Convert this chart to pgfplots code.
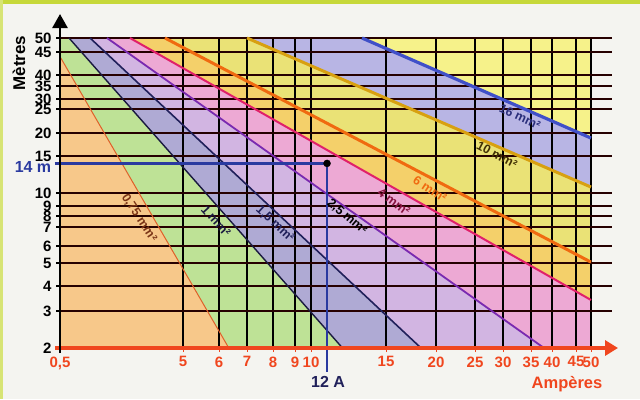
\documentclass[border=0pt]{standalone}
\usepackage{pgfplots}
\pgfplotsset{compat=1.18}
\usepackage{fontspec}
\setmainfont{Liberation Sans}
\usetikzlibrary{arrows.meta}
\definecolor{bgc}{HTML}{F4F4F0}
\definecolor{topband}{HTML}{C6D83A}
\definecolor{axred}{HTML}{F0461E}
\definecolor{orangefill}{HTML}{F7C88A}
\definecolor{greenfill}{HTML}{BEE296}
\definecolor{lavA}{HTML}{AFAAD4}
\definecolor{lavB}{HTML}{D2B5E2}
\definecolor{pinkf}{HTML}{EDA9D4}
\definecolor{orfill}{HTML}{F4D06A}
\definecolor{yelfill}{HTML}{EAE276}
\definecolor{lavC}{HTML}{B8B5E4}
\definecolor{yelB}{HTML}{F6F28A}
\definecolor{cA}{HTML}{E0602A}
\definecolor{cB}{HTML}{1A1A40}
\definecolor{cC}{HTML}{20205A}
\definecolor{cD}{HTML}{7A2AB0}
\definecolor{cE}{HTML}{E0206A}
\definecolor{cF}{HTML}{F06A10}
\definecolor{cG}{HTML}{D8A010}
\definecolor{cH}{HTML}{4050C8}
\definecolor{guide}{HTML}{2A3AA0}
% piecewise-linear maps from values to drawing positions (hand-drawn scales of the original)
\makeatletter
\def\my@getin#1{%
 \begingroup\pgfkeys{/pgf/fpu=true}\pgfmathparse{#1}%
 \pgfmathfloattofixed{\pgfmathresult}\xdef\v{\pgfmathresult}\endgroup}
\newcommand\xposmap[1]{%
 \my@getin{#1}%
 \begingroup\pgfkeys{/pgf/fpu=false}%
 \pgfmathparse{(\v<5) ? 60+(\v-0.5)*27.333 : ((\v<6) ? 183+(\v-5)*36 : ((\v<7) ? 219+(\v-6)*28 : ((\v<8) ? 247+(\v-7)*26 : ((\v<9) ? 273+(\v-8)*22 : ((\v<10) ? 295+(\v-9)*16 : ((\v<15) ? 311+(\v-10)*15 : ((\v<20) ? 386+(\v-15)*10 : ((\v<25) ? 436+(\v-20)*7.8 : ((\v<30) ? 475+(\v-25)*5.6 : ((\v<35) ? 503+(\v-30)*5.6 : ((\v<40) ? 531+(\v-35)*4.2 : ((\v<45) ? 552+(\v-40)*4.8 : 576+(\v-45)*3))))))))))))}%
 \xdef\my@res{\pgfmathresult}\endgroup\pgfmathparse{\my@res}}
\newcommand\yposmap[1]{%
 \my@getin{#1}%
 \begingroup\pgfkeys{/pgf/fpu=false}%
 \pgfmathparse{(\v<3) ? 52+(\v-2)*37 : ((\v<4) ? 89+(\v-3)*25 : ((\v<5) ? 114+(\v-4)*23 : ((\v<6) ? 137+(\v-5)*17 : ((\v<7) ? 154+(\v-6)*19 : ((\v<8) ? 173+(\v-7)*11 : ((\v<9) ? 184+(\v-8)*10 : ((\v<10) ? 194+(\v-9)*13 : ((\v<15) ? 207+(\v-10)*7.4 : ((\v<20) ? 244+(\v-15)*4.6 : ((\v<25) ? 267+(\v-20)*4.8 : ((\v<30) ? 291+(\v-25)*2 : ((\v<35) ? 301+(\v-30)*2.6 : ((\v<40) ? 314+(\v-35)*2.2 : ((\v<45) ? 325+(\v-40)*4.6 : 348+(\v-45)*2.8))))))))))))))}%
 \xdef\my@res{\pgfmathresult}\endgroup\pgfmathparse{\my@res}}
\makeatother
\begin{document}
\begin{tikzpicture}
\begin{axis}[
 set layers,
 scale only axis, width=552pt, height=310pt,
 at={(60pt,-348pt)}, anchor=south west,
 x coord trafo/.code={\xposmap{#1}},
 y coord trafo/.code={\yposmap{#1}},
 xmin=0.5, xmax=57, ymin=2, ymax=50,
 axis line style={draw=none},
 xtick={0.5,5,6,7,8,9,10,15,20,25,30,35,40,45,50},
 xticklabels={{0,5},5,6,7,8,9,10,15,20,25,30,35,40,45,50},
 ytick={2,3,4,5,6,7,8,9,10,15,20,25,30,35,40,45,50},
 yticklabels={2,3,4,5,6,7,8,9,10,15,20,25,30,35,40,45,50},
 xtick pos=bottom, ytick pos=left, tick align=outside,
 major tick length=4pt,
 xtick style={axred, line width=1pt},
 ytick style={black, line width=1.3pt},
 grid=major,
 x grid style={black, line width=1.7pt},
 y grid style={black!85!red, line width=1.1pt},
 clip=false,
 ticklabel style={font=\bfseries\fontsize{15}{15}\selectfont},
 xticklabel style={text=axred, yshift=-1pt},
 yticklabel style={text=black, xshift=-1pt},
]
% page background (drawn first, lowest layer)
\begin{pgfonlayer}{axis background}
\fill[bgc] ([xshift=-60pt,yshift=-51pt]rel axis cs:0,0) rectangle ([xshift=28pt,yshift=38pt]rel axis cs:1,1);
\fill[topband] ([xshift=-60pt,yshift=34pt]rel axis cs:0,1) rectangle ([xshift=28pt,yshift=38pt]rel axis cs:1,1);
\fill[topband!70!white] ([xshift=-60pt,yshift=-51pt]rel axis cs:0,0) rectangle ([xshift=-57pt,yshift=38pt]rel axis cs:0,1);
\end{pgfonlayer}
% filled regions
\addplot[on layer=axis background, fill=orangefill, draw=none] coordinates {(0.5,2) (0.5,44) (6.35,2)} -- cycle;
\addplot[on layer=axis background, fill=greenfill, draw=none] coordinates {(0.5,44) (0.5,50) (0.83,50) (12.1,2) (6.35,2)} -- cycle;
\addplot[on layer=axis background, fill=lavA, draw=none] coordinates {(0.83,50) (1.6,50) (18.5,2) (12.1,2)} -- cycle;
\addplot[on layer=axis background, fill=lavB, draw=none] coordinates {(1.6,50) (2.22,50) (38.1,2) (18.5,2)} -- cycle;
\addplot[on layer=axis background, fill=pinkf, draw=none] coordinates {(2.22,50) (3.06,50) (50,3.44) (50,2) (38.1,2)} -- cycle;
\addplot[on layer=axis background, fill=orfill, draw=none] coordinates {(3.06,50) (4.34,50) (50,5.05) (50,3.44)} -- cycle;
\addplot[on layer=axis background, fill=yelfill, draw=none] coordinates {(4.34,50) (7,50) (50,10.8) (50,5.05)} -- cycle;
\addplot[on layer=axis background, fill=lavC, draw=none] coordinates {(7,50) (13.4,50) (50,18.9) (50,10.8)} -- cycle;
\addplot[on layer=axis background, fill=yelB, draw=none] coordinates {(13.4,50) (50,50) (50,18.9)} -- cycle;
% boundary lines
\addplot[cA, line width=1pt] coordinates {(0.5,44) (6.35,2)};
\addplot[cB, line width=1.4pt] coordinates {(0.83,50) (12.1,2)};
\addplot[cC, line width=1.6pt] coordinates {(1.6,50) (18.5,2)};
\addplot[cD, line width=1.8pt] coordinates {(2.22,50) (38.1,2)};
\addplot[cE, line width=2pt] coordinates {(3.06,50) (50,3.44)};
\addplot[cF, line width=3pt] coordinates {(4.34,50) (50,5.05)};
\addplot[cG, line width=3pt] coordinates {(7,50) (50,10.8)};
\addplot[cH, line width=3.2pt] coordinates {(13.4,50) (50,18.9)};
% guide 14 m / 12 A
\addplot[guide, line width=2.2pt] coordinates {(0.3,14) (11.07,14) (11.07,1.35)};
\addplot[black, only marks, mark=*, mark size=3.5pt] coordinates {(11.07,14)};
% axes
\draw[axred, line width=4.5pt, -{Triangle[length=13pt,width=15pt]}] ([xshift=-5pt]rel axis cs:0,0) -- ([xshift=6pt]rel axis cs:1,0);
\draw[black, line width=2.6pt, -{Triangle[length=14pt,width=15pt]}] ([yshift=-5pt]rel axis cs:0,0) -- ([yshift=24pt]rel axis cs:0,1);
\end{axis}
% line labels
\begin{scope}[font=\bfseries\fontsize{12.5}{12.5}\selectfont]
\node[rotate=-57, text=cA!55!black] at (139pt,-218pt) {0,75 mm²};
\node[rotate=-48, text=cB] at (216pt,-221pt) {1 mm²};
\node[rotate=-43, text=cC] at (275pt,-224pt) {1,5 mm²};
\node[rotate=-40, text=black] at (347pt,-217pt) {2,5 mm²};
\node[rotate=-36, text=cE!60!black] at (394pt,-202pt) {4 mm²};
\node[rotate=-33, text=cF] at (430pt,-189pt) {6 mm²};
\node[rotate=-28, text=cG!30!black] at (497pt,-155pt) {10 mm²};
\node[rotate=-25, text=cC!70!cH] at (520pt,-117pt) {16 mm²};
\end{scope}
\node[rotate=90, font=\bfseries\fontsize{17}{17}\selectfont] at (19pt,-63pt) {Mètres};
\node[text=guide, font=\bfseries\fontsize{16}{16}\selectfont] at (33pt,-167pt) {14 m};
\node[text=cC, font=\bfseries\fontsize{16}{16}\selectfont] at (328pt,-382pt) {12 A};
\node[text=axred, font=\bfseries\fontsize{16.5}{16.5}\selectfont] at (567pt,-384pt) {Ampères};
\end{tikzpicture}
\end{document}
